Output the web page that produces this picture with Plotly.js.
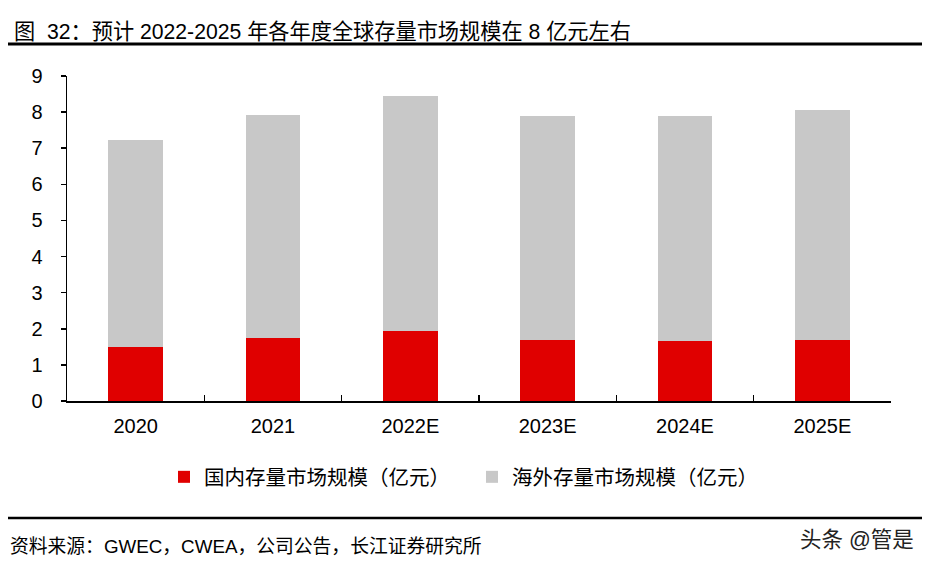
<!DOCTYPE html>
<html><head><meta charset="utf-8">
<script src="https://cdn.plot.ly/plotly-3.0.1.min.js"></script>
<style>html,body{margin:0;padding:0;background:#fff}#chart{width:932px;height:568px}</style>
</head><body><div id="chart"></div>
<script>
const categories = ['2020','2021','2022E','2023E','2024E','2025E'];
const domestic = [1.50, 1.75, 1.94, 1.69, 1.66, 1.69];
const overseas = [5.74, 6.16, 6.51, 6.20, 6.24, 6.36];
const yTicks = [0,1,2,3,4,5,6,7,8,9];
const seriesNames = ['国内存量市场规模（亿元）','海外存量市场规模（亿元）'];
const titleText = '图  32：预计 2022-2025 年各年度全球存量市场规模在 8 亿元左右';
const sourceText = '资料来源：GWEC，CWEA，公司公告，长江证券研究所';
const watermark = '头条 @管是';

const FONT = 'Liberation Sans, Arial, Noto Sans CJK SC, sans-serif';
const L=67, R=891, T=76, B=401;
const W=R-L, H=B-T;
const px = x => (x-L)/W;
const py = y => (B-y)/H;

const traces = [
  {type:'bar', x:categories, y:domestic, name:seriesNames[0], marker:{color:'#E00000'}},
  {type:'bar', x:categories, y:overseas, name:seriesNames[1], marker:{color:'#C8C8C8'}}
];

const layout = {
  width:932, height:568,
  margin:{l:L, r:932-R, t:T, b:568-B},
  paper_bgcolor:'#fff', plot_bgcolor:'#fff',
  barmode:'stack', bargap:0.6,
  font:{family:FONT, color:'#000', size:20},
  showlegend:true,
  legend:{orientation:'h', x:px(164), xanchor:'left', y:py(477), yanchor:'middle',
    font:{family:FONT, size:20.5, color:'#000'}, entrywidth:263, entrywidthmode:'pixels',
    itemwidth:30, bgcolor:'rgba(0,0,0,0)', traceorder:'normal'},
  xaxis:{type:'category', showline:true, linecolor:'#000', linewidth:1.5,
    ticks:'inside', tickson:'boundaries', ticklen:6, tickcolor:'#000', tickwidth:1.5,
    showgrid:false, zeroline:false, tickfont:{size:20}, ticklabelstandoff:6, automargin:false},
  yaxis:{range:[0,9], tickvals:yTicks, showline:true, linecolor:'#000', linewidth:1.5,
    ticks:'outside', ticklen:5, tickcolor:'#000', tickwidth:1.5, showgrid:false,
    zeroline:false, tickfont:{size:20}, ticklabelstandoff:14, automargin:false},
  shapes:[
    {type:'line', xref:'paper', yref:'paper', x0:px(8), x1:px(922), y0:py(44), y1:py(44), line:{color:'#000', width:3}},
    {type:'line', xref:'paper', yref:'paper', x0:px(8), x1:px(922), y0:py(518), y1:py(518), line:{color:'#000', width:2.5}}
  ],
  annotations:[
    {text:titleText, xref:'paper', yref:'paper', x:px(12), y:py(31), xanchor:'left', yanchor:'middle', showarrow:false, font:{size:21.2, color:'#000', family:FONT}},
    {text:sourceText, xref:'paper', yref:'paper', x:px(8), y:py(546), xanchor:'left', yanchor:'middle', showarrow:false, font:{size:18.8, color:'#000', family:FONT}},
    {text:watermark, xref:'paper', yref:'paper', x:px(916), y:py(540), xanchor:'right', yanchor:'middle', showarrow:false, font:{size:21.5, color:'#222', family:FONT}}
  ]
};
Plotly.newPlot('chart', traces, layout, {displayModeBar:false, staticPlot:true});
</script></body></html>
